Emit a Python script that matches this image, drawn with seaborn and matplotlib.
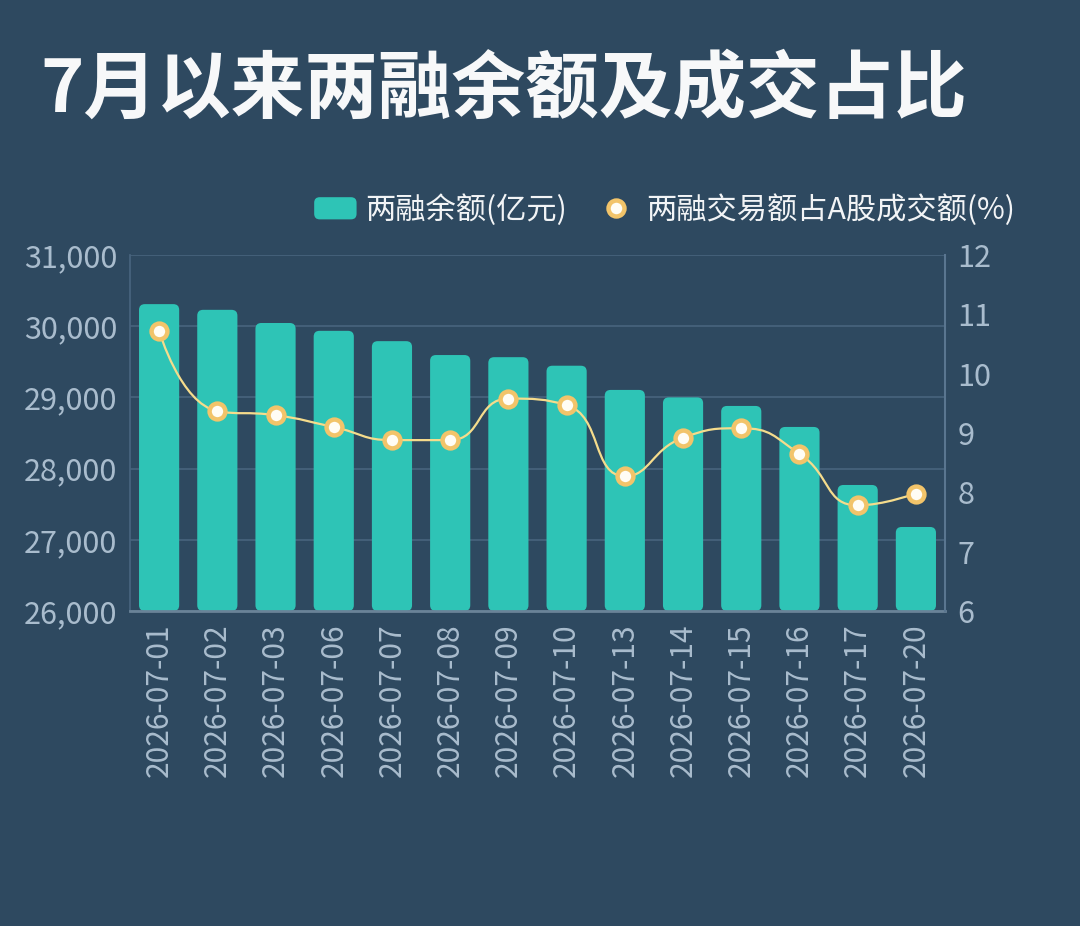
import numpy as np
import pandas as pd
import matplotlib.pyplot as plt
import seaborn as sns
from matplotlib.patches import FancyBboxPatch, PathPatch, Patch
from matplotlib.path import Path
from matplotlib.lines import Line2D
from matplotlib.legend_handler import HandlerPatch

# 数据
dates = ['2026-07-01', '2026-07-02', '2026-07-03', '2026-07-06', '2026-07-07',
         '2026-07-08', '2026-07-09', '2026-07-10', '2026-07-13', '2026-07-14',
         '2026-07-15', '2026-07-16', '2026-07-17', '2026-07-20']
balance = [30310, 30230, 30045, 29935, 29790, 29595, 29565, 29445,
           29105, 29000, 28880, 28585, 27770, 27180]
ratio = [10.72, 9.37, 9.30, 9.10, 8.88, 8.88, 9.58, 9.47,
         8.27, 8.92, 9.08, 8.65, 7.78, 7.98]
left_ticks = [26000, 27000, 28000, 29000, 30000, 31000]
right_ticks = [6, 7, 8, 9, 10, 11, 12]

title = '7月以来两融余额及成交占比'
bar_label = '两融余额(亿元)'
line_label = '两融交易额占A股成交额(%)'

BG = '#2E4960'
TEAL = '#2EC4B6'
GOLD = '#F2C46A'
LINE = '#F5DC8C'
TICK = '#A9BCCD'
GRID = '#48647E'

sns.set_theme(style="white")
plt.rcParams['font.family'] = ['Noto Sans CJK SC', 'DejaVu Sans']
plt.rcParams['axes.unicode_minus'] = False


def smooth_path(px, py, smooth=0.5):
    # 平滑曲线控制点 (仿 echarts smooth)
    verts = [(px[0], py[0])]
    codes = [Path.MOVETO]
    cp0 = (px[0], py[0])
    n = len(px)
    for i in range(1, n):
        x, y = px[i], py[i]
        x0, y0 = px[i - 1], py[i - 1]
        if i == n - 1:
            cp1 = (x, y)
            nxt = None
        else:
            x2, y2 = px[i + 1], py[i + 1]
            vx, vy = x2 - x0, y2 - y0
            len0 = np.hypot(x - x0, y - y0)
            len1 = np.hypot(x2 - x, y2 - y)
            r = len1 / (len0 + len1)
            ncx = np.clip(x + vx * smooth * r, min(x, x2), max(x, x2))
            ncy = np.clip(y + vy * smooth * r, min(y, y2), max(y, y2))
            vx, vy = ncx - x, ncy - y
            c1x = np.clip(x - vx * len0 / len1, min(x0, x), max(x0, x))
            c1y = np.clip(y - vy * len0 / len1, min(y0, y), max(y0, y))
            vx, vy = x - c1x, y - c1y
            ncx = x + vx * len1 / len0
            ncy = y + vy * len1 / len0
            cp1 = (c1x, c1y)
            nxt = (ncx, ncy)
        verts += [cp0, cp1, (x, y)]
        codes += [Path.CURVE4] * 3
        cp0 = nxt
    return np.array(verts), codes


def round_handle(legend, orig_handle, xdescent, ydescent, width, height, fontsize):
    return FancyBboxPatch((-xdescent, -ydescent), width, height,
                          boxstyle="round,pad=0,rounding_size=4")


fig = plt.figure(figsize=(10.8, 9.26), dpi=100, facecolor=BG)
ax = fig.add_axes([130 / 1080, 1 - 611 / 926, 815 / 1080, 356 / 926])
ax.set_facecolor(BG)

df = pd.DataFrame({'date': dates, 'balance': balance, 'ratio': ratio})

# 柱状图
sns.barplot(data=df, x='date', y='balance', color=TEAL, width=0.69,
            saturation=1, ax=ax, zorder=2)
ax.set_xlim(-0.5, len(dates) - 0.5)
ax.set_ylim(left_ticks[0], left_ticks[-1])

# 圆角柱子, 从轴底部开始
px_per_x = 815 / len(dates)
px_per_y = 356 / (left_ticks[-1] - left_ticks[0])
rad = 0.1
for p in list(ax.patches):
    x0, w, h = p.get_x(), p.get_width(), p.get_height()
    p.remove()
    fb = FancyBboxPatch((x0, left_ticks[0]), w, h - left_ticks[0],
                        boxstyle=f"round,pad=0,rounding_size={rad}",
                        mutation_aspect=px_per_x / px_per_y,
                        fc=TEAL, ec='none', zorder=2)
    ax.add_patch(fb)

ax.set_yticks(left_ticks)
ax.set_yticklabels([f'{v:,}' for v in left_ticks])
ax.yaxis.grid(True, color=GRID, lw=1.2)
ax.xaxis.grid(False)
ax.set_axisbelow(True)
ax.set_xlabel('')
ax.set_ylabel('')

# 折线 (右轴)
ax2 = ax.twinx()
ax2.set_ylim(right_ticks[0], right_ticks[-1])
ax2.set_yticks(right_ticks)
ax2.grid(False)

xs = np.arange(len(dates))
pix = ax2.transData.transform(np.column_stack([xs, ratio]))
verts, codes = smooth_path(pix[:, 0], pix[:, 1])
verts_data = ax2.transData.inverted().transform(verts)
ax2.add_patch(PathPatch(Path(verts_data, codes), fill=False, ec=LINE,
                        lw=1.6, zorder=3))
sns.scatterplot(x=xs, y=ratio, ax=ax2, s=130, color='#FFFDF5',
                edgecolor=GOLD, linewidth=3.2, zorder=5, legend=False)

# 坐标轴样式
for a in (ax, ax2):
    for s in a.spines.values():
        s.set_visible(False)
ax.spines['left'].set_visible(True)
ax.spines['left'].set_color(GRID)
ax.spines['bottom'].set_visible(True)
ax.spines['bottom'].set_color('#6A8398')
ax.spines['bottom'].set_linewidth(2)
ax2.spines['right'].set_visible(True)
ax2.spines['right'].set_color('#5A7690')
ax2.spines['right'].set_linewidth(1.5)

ax.set_xticks(xs)
ax.set_xticklabels(dates, rotation=90)
ax.tick_params(axis='x', length=0, pad=9, labelsize=21.5, labelcolor=TICK)
ax.tick_params(axis='y', length=0, pad=9, labelsize=22, labelcolor=TICK)
ax2.tick_params(axis='y', length=0, pad=9, labelsize=22, labelcolor=TICK)
ax2.set_ylabel('')
ax2.set_xlabel('')

# 图例
handles = [Patch(facecolor=TEAL, edgecolor='none'),
           Line2D([], [], marker='o', ls='none', mfc='#FFFDF5', mec=GOLD,
                  mew=3.2, ms=11.5)]
fig.legend(handles, [bar_label, line_label], loc='center right',
           bbox_to_anchor=(1015 / 1080, 1 - 210 / 926), ncol=2,
           frameon=False, fontsize=21.8, labelcolor='#F2F4F6',
           handlelength=1.4, handleheight=0.75, handletextpad=0.3,
           columnspacing=0.9, borderpad=0, borderaxespad=0,
           handler_map={Patch: HandlerPatch(patch_func=round_handle)})

# 标题
fig.text(40 / 1080, 1 - 112 / 926, title, fontsize=53, fontweight='heavy',
         color='#F7F8F9', ha='left', va='baseline')

fig.savefig('out.png', dpi=100, facecolor=BG)
